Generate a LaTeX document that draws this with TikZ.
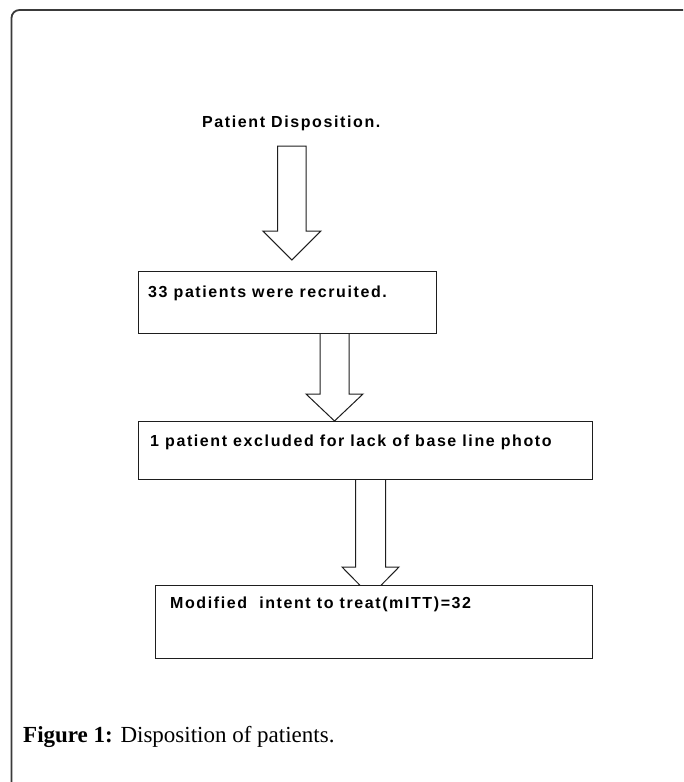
\documentclass[tikz,border=0pt]{standalone}
\usepackage{fontspec}
\setmainfont{Liberation Serif}
\newfontfamily\boxfont[LetterSpace=10]{Liberation Sans}
\definecolor{framegray}{HTML}{3A3A3A}
\definecolor{linegray}{HTML}{1E1E1E}
\tikzset{
  framestyle/.style={draw=framegray, line width=1.8pt},
  boxstyle/.style={draw=linegray, line width=1.1pt, fill=white, rectangle, inner sep=0pt},
  arrowline/.style={draw=linegray, line width=1pt, fill=white, line join=miter},
  boxtext/.style={anchor=base west, inner sep=0pt, font=\boxfont\bfseries\fontsize{16}{19}\selectfont},
  captext/.style={anchor=base west, inner sep=0pt, font=\fontsize{23}{27}\selectfont}
}
\newcommand{\blkarrow}[6]{%
  \draw[arrowline] (#1-#5,#2) -- (#1+#5,#2) -- (#1+#5,#3) -- (#1+#6,#3) -- (#1,#4) -- (#1-#6,#3) -- (#1-#5,#3) -- cycle;}
\begin{document}
\begin{tikzpicture}[x=1pt,y=-1pt]
\useasboundingbox (0,0) rectangle (683,782);
\begin{scope}
\clip (0,0) rectangle (683,782);
\draw[framestyle, rounded corners=8pt] (11.5,820) -- (11.5,10) -- (705,10) -- (705,820);
\end{scope}

% title
\node[boxtext] (title) at (202,127) {Patient Disposition.};

% arrows (drawn first, boxes cover the tips)
\blkarrow{291.8}{146}{231}{260}{14.2}{29}
\blkarrow{334.5}{333}{394}{421}{14.5}{28.5}
\blkarrow{370.5}{479}{567}{596}{15}{28.5}

% boxes
\node[boxstyle, anchor=north west, minimum width=298pt, minimum height=62pt] (b1) at (138,271) {};
\node[boxstyle, anchor=north west, minimum width=454pt, minimum height=58pt] (b2) at (138,421) {};
\node[boxstyle, anchor=north west, minimum width=437pt, minimum height=73pt] (b3) at (155,585) {};

\node[boxtext] (t1) at ([shift={(10,26)}]b1.north west) {33 patients were recruited.};
\node[boxtext] (t2) at ([shift={(12,25)}]b2.north west) {1 patient excluded for lack of base line photo};
\node[boxtext] (t3) at ([shift={(15,23)}]b3.north west) {Modified\ \ intent to treat(mITT)=32};

% caption
\node[captext] (cap) at (23,742) {\textbf{Figure 1:} Disposition of patients.};
\end{tikzpicture}
\end{document}
